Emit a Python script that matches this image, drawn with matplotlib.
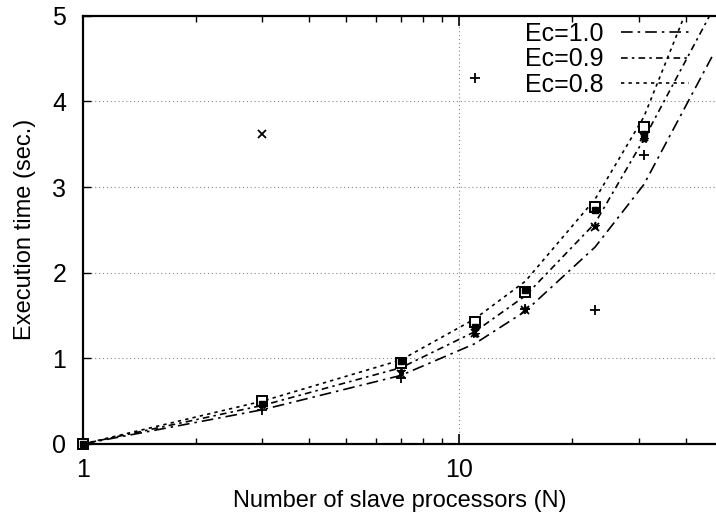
import numpy as np
import matplotlib
matplotlib.use("Agg")
import matplotlib.pyplot as plt
from matplotlib.ticker import FixedLocator, NullFormatter, FixedFormatter

plt.rcParams['font.family'] = ['Liberation Sans', 'DejaVu Sans']

# Number of slave processors
n_proc = [1, 3, 7, 11, 15, 23, 31, 47]

# Model curves for several efficiency values
ec_labels = ["Ec=1.0", "Ec=0.9", "Ec=0.8"]
model_ec10 = [0.0, 0.40, 0.80, 1.17, 1.55, 2.30, 3.03, 4.52]
model_ec09 = [0.0, 0.45, 0.89, 1.31, 1.73, 2.58, 3.56, 5.05]
model_ec08 = [0.0, 0.50, 0.98, 1.46, 1.90, 2.86, 3.82, 5.80]

# Measured execution times
meas_n = [1, 3, 7, 11, 15, 23, 31]
meas_plus = [0.0, 0.40, 0.77, 4.27, 1.58, 1.57, 3.38]
meas_cross = [0.0, 3.62, 0.82, 1.30, 1.57, 2.53, 3.58]
meas_star = [0.0, 0.45, 0.85, 1.28, 1.58, 2.55, 3.56]
meas_open_sq = [0.0, 0.50, 0.95, 1.42, 1.77, 2.77, 3.70]
meas_fill_sq = [0.0, 0.47, 0.97, 1.36, 1.80, 2.73, 3.62]

x_ticks = [1, 10]
y_ticks = [0, 1, 2, 3, 4, 5]

fig = plt.figure(figsize=(7.16, 5.26), dpi=100)
ax = fig.add_axes([0.116, 0.156, 0.884, 0.814])

ax.set_xscale('log')
ax.set_xlim(1, 48.2)
ax.set_ylim(0, 5)

# grid
for yv in [1, 2, 3, 4]:
    ax.axhline(yv, color='#888888', lw=0.8, ls=(0, (1, 2.5)), zorder=0)
ax.axvline(10, color='#888888', lw=0.8, ls=(0, (1, 2.5)), zorder=0)

# model curves
ax.plot(n_proc, model_ec10, color='black', lw=1.2, ls=(0, (7, 3, 1.5, 3)), label=ec_labels[0])
ax.plot(n_proc, model_ec09, color='black', lw=1.2, ls=(0, (4, 2.5, 1.5, 2.5)), label=ec_labels[1])
ax.plot(n_proc, model_ec08, color='black', lw=1.2, ls=(0, (2, 2.5)), label=ec_labels[2])

# measured points
mk = dict(color='black', ls='none', clip_on=False, zorder=5)
ax.plot(meas_n, meas_plus, marker='+', ms=7, mew=1.3, **mk)
ax.plot(meas_n, meas_cross, marker='x', ms=6, mew=1.3, **mk)
ax.plot(meas_n, meas_star, marker='*', ms=6, mew=0.8, **mk)
ax.plot(meas_n, meas_open_sq, marker='s', ms=7, mew=1.4, mfc='white', **mk)
ax.plot(meas_n, meas_fill_sq, marker='s', ms=5, mew=1.0, mfc='black', **mk)

# axes styling
for s in ['left', 'bottom', 'top']:
    ax.spines[s].set_linewidth(1.6)
ax.spines['right'].set_visible(False)

ax.xaxis.set_major_locator(FixedLocator(x_ticks))
ax.xaxis.set_major_formatter(FixedFormatter([str(v) for v in x_ticks]))
ax.xaxis.set_minor_locator(FixedLocator([2, 3, 4, 5, 6, 7, 8, 9, 20, 30, 40]))
ax.xaxis.set_minor_formatter(NullFormatter())
ax.yaxis.set_major_locator(FixedLocator(y_ticks))

ax.tick_params(axis='x', which='major', direction='in', length=7, width=1.2,
               top=True, labelsize=18, pad=10)
ax.tick_params(axis='x', which='minor', direction='in', length=4, width=1.0, top=True)
ax.tick_params(axis='y', which='major', direction='in', length=6, width=1.0,
               labelsize=18, pad=12)

ax.set_xlabel("Number of slave processors (N)", fontsize=17, labelpad=6)
ax.set_ylabel("Execution time (sec.)", fontsize=17, labelpad=12)

leg = ax.legend(loc='upper right', bbox_to_anchor=(0.967, 1.0), frameon=False,
                markerfirst=False, fontsize=18, handlelength=2.7,
                labelspacing=0.05, borderaxespad=0.0, borderpad=0.25,
                handletextpad=0.7)

fig.savefig("out.png", dpi=100)
